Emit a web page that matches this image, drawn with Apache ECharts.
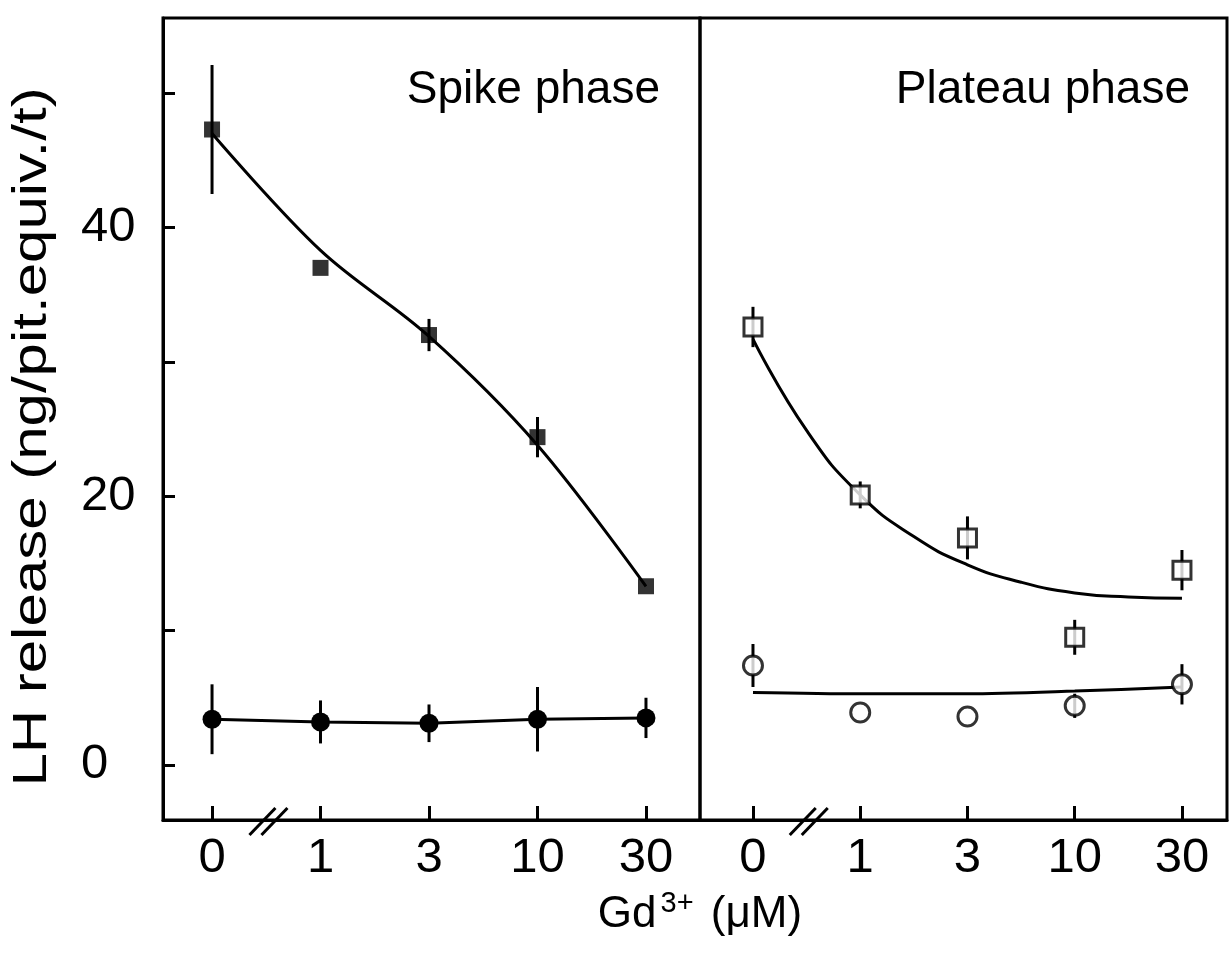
<!DOCTYPE html>
<html>
<head>
<meta charset="utf-8">
<script src="https://cdn.jsdelivr.net/npm/echarts@6/dist/echarts.min.js"></script>
<style>
html,body{margin:0;padding:0;background:#fff;}
#chart{width:1231px;height:955px;}
</style>
</head>
<body>
<div id="chart"></div>
<script>
// ---- data ----
const xLabels = ['0', '1', '3', '10', '30'];
const xIdx = [0, 1, 2, 3, 4];
const yTickValues = [0, 10, 20, 30, 40, 50];
const yLabelValues = [0, 20, 40];

// Spike phase
const spikeSquares = [47.3, 37.0, 32.0, 24.4, 13.3];
const spikeSquaresErr = [4.8, 0, 1.2, 1.5, 0];
const spikeFitX = [0, 1, 2, 3, 4];
const spikeFit = [47.0, 38.3, 31.9, 23.8, 13.3];
const spikeCircles = [3.4, 3.2, 3.1, 3.4, 3.5];
const spikeCirclesErr = [2.6, 1.6, 1.4, 2.4, 1.5];

// Plateau phase
const plateauSquares = [32.6, 20.1, 16.9, 9.5, 14.5];
const plateauSquaresErr = [1.5, 1.0, 1.6, 1.3, 1.5];
const plateauFitX = [0, 0.5, 1, 1.5, 2, 2.5, 3, 3.5, 4];
const plateauFit = [31.7, 24.9, 20.1, 17.0, 14.9, 13.6, 12.8, 12.5, 12.4];
const plateauCircles = [7.4, 3.9, 3.6, 4.4, 6.0];
const plateauCirclesErr = [1.6, 0, 0, 0.9, 1.5];
const plateauCircleFit = [5.4, 5.3, 5.3, 5.5, 5.8];

const FONT = 'Liberation Sans, Arial, Helvetica, sans-serif';
const LW = 3;

const pairs = (xs, ys) => xs.map((x, i) => [x, ys[i]]);
const errData = (ys, es) => xIdx.map((x, i) => [x, ys[i], es[i]]).filter(d => d[2] > 0);

function errSeries(ys, es, gi) {
  return {
    type: 'custom', xAxisIndex: gi, yAxisIndex: gi, z: 1,
    data: errData(ys, es),
    encode: { x: 0, y: 1 },
    renderItem: function (params, api) {
      const x = api.value(0), y = api.value(1), e = api.value(2);
      const a = api.coord([x, y + e]);
      const b = api.coord([x, y - e]);
      return { type: 'line', shape: { x1: a[0], y1: a[1], x2: b[0], y2: b[1] },
        style: { stroke: '#000', lineWidth: LW } };
    }
  };
}

function xAxis(gi, min, max) {
  return {
    type: 'value', gridIndex: gi, min: min, max: max,
    axisLine: { show: true, onZero: false, lineStyle: { color: '#000', width: 3 } },
    axisTick: { show: true, inside: true, length: 14, customValues: xIdx,
      lineStyle: { color: '#000', width: LW } },
    axisLabel: { show: true, customValues: xIdx, margin: 14,
      formatter: v => xLabels[Math.round(v)] || '',
      color: '#000', fontSize: 49, fontFamily: FONT },
    splitLine: { show: false }
  };
}

const yMin = -4.1, yMax = 55.6;

const option = {
  animation: false,
  backgroundColor: '#fff',
  grid: [
    { left: 163, right: 1231 - 700, top: 18, bottom: 955 - 820, show: true,
      borderColor: '#000', borderWidth: 3, backgroundColor: 'transparent' },
    { left: 700, right: 1231 - 1227, top: 18, bottom: 955 - 820, show: true,
      borderColor: '#000', borderWidth: 3, backgroundColor: 'transparent' }
  ],
  xAxis: [
    xAxis(0, -0.452, 4.498),
    xAxis(1, -0.494, 4.42)
  ],
  yAxis: [
    {
      type: 'value', gridIndex: 0, min: yMin, max: yMax,
      axisLine: { show: true, onZero: false, lineStyle: { color: '#000', width: 3 } },
      axisTick: { show: true, inside: true, length: 12, customValues: yTickValues,
        lineStyle: { color: '#000', width: LW } },
      axisLabel: { show: true, customValues: yLabelValues, margin: 82, align: 'left',
        color: '#000', fontSize: 49, fontFamily: FONT },
      splitLine: { show: false }
    },
    {
      type: 'value', gridIndex: 1, min: yMin, max: yMax,
      axisLine: { show: false }, axisTick: { show: false },
      axisLabel: { show: false }, splitLine: { show: false }
    }
  ],
  series: [
    // Spike phase
    errSeries(spikeSquares, spikeSquaresErr, 0),
    errSeries(spikeCircles, spikeCirclesErr, 0),
    { type: 'line', xAxisIndex: 0, yAxisIndex: 0, z: 2, smooth: 0.35, showSymbol: false,
      data: pairs(spikeFitX, spikeFit), lineStyle: { color: '#000', width: LW } },
    { type: 'scatter', xAxisIndex: 0, yAxisIndex: 0, z: 3, symbol: 'rect', symbolSize: 16,
      data: pairs(xIdx, spikeSquares), itemStyle: { color: '#000' } },
    { type: 'line', xAxisIndex: 0, yAxisIndex: 0, z: 3, symbol: 'circle', symbolSize: 19,
      showSymbol: true, data: pairs(xIdx, spikeCircles),
      lineStyle: { color: '#000', width: LW }, itemStyle: { color: '#000' } },
    // Plateau phase
    errSeries(plateauSquares, plateauSquaresErr, 1),
    errSeries(plateauCircles, plateauCirclesErr, 1),
    { type: 'line', xAxisIndex: 1, yAxisIndex: 1, z: 2, smooth: 0.5, showSymbol: false,
      data: pairs(plateauFitX, plateauFit), lineStyle: { color: '#000', width: LW } },
    { type: 'line', xAxisIndex: 1, yAxisIndex: 1, z: 2, smooth: 0.3, showSymbol: false,
      data: pairs(xIdx, plateauCircleFit), lineStyle: { color: '#000', width: LW } },
    { type: 'scatter', xAxisIndex: 1, yAxisIndex: 1, z: 3, symbol: 'rect', symbolSize: 18,
      data: pairs(xIdx, plateauSquares),
      itemStyle: { color: '#fff', borderColor: '#000', borderWidth: LW } },
    { type: 'scatter', xAxisIndex: 1, yAxisIndex: 1, z: 3, symbol: 'circle', symbolSize: 19,
      data: pairs(xIdx, plateauCircles),
      itemStyle: { color: '#fff', borderColor: '#000', borderWidth: LW } }
  ]
};

const chart = echarts.init(document.getElementById('chart'), null, { renderer: 'canvas' });
chart.setOption(option);

// Axis break marks and panel texts
const breakAt = 0.52;
function breakMarks(gi) {
  const p = chart.convertToPixel({ xAxisIndex: gi, yAxisIndex: gi }, [breakAt, yMin]);
  const out = [];
  [-6, 6].forEach(dx => {
    out.push({ type: 'line', z: 100,
      shape: { x1: p[0] + dx - 13, y1: p[1] + 15, x2: p[0] + dx + 13, y2: p[1] - 12 },
      style: { stroke: '#000', lineWidth: LW } });
  });
  return out;
}
chart.setOption({
  graphic: [
    ...breakMarks(0), ...breakMarks(1),
    { type: 'text', x: 33, y: 437, rotation: Math.PI / 2, scaleX: 1.25,
      style: { text: 'LH release (ng/pit.equiv./t)', fill: '#000',
        font: '48px ' + FONT, align: 'center', verticalAlign: 'middle' } },
    { type: 'text', x: 660, y: 90, style: { text: 'Spike phase', fill: '#000',
      font: '46px ' + FONT, align: 'right', verticalAlign: 'middle' } },
    { type: 'text', x: 1190, y: 90, style: { text: 'Plateau phase', fill: '#000',
      font: '46px ' + FONT, align: 'right', verticalAlign: 'middle' } },
    { type: 'text', x: 700, y: 915, style: {
      text: 'Gd{s|3+} (μM)', fill: '#000', font: '44px ' + FONT,
      align: 'center', verticalAlign: 'middle',
      rich: { s: { fontSize: 29, fontFamily: FONT, fill: '#000', padding: [0, 5, 22, 4] } } } }
  ]
});
</script>
</body>
</html>
